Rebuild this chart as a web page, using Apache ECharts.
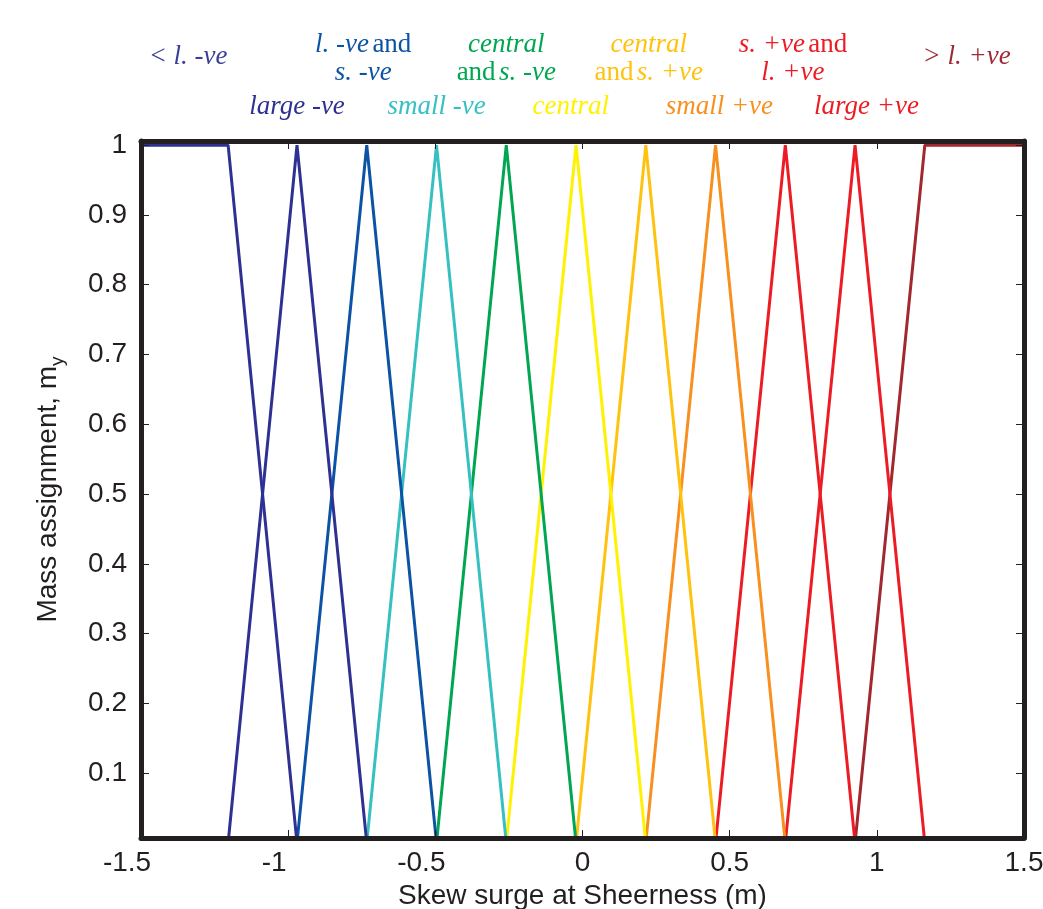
<!DOCTYPE html>
<html>
<head>
<meta charset="utf-8">
<script src="https://cdn.jsdelivr.net/npm/echarts@6/dist/echarts.min.js"></script>
<style>
html,body{margin:0;padding:0;background:#fff;}
#chart{width:1043px;height:909px;}
</style>
</head>
<body>
<div id="chart"></div>
<script>
// ---- data ----
const seriesNames = ['< l. -ve','large -ve','l. -ve and s. -ve','small -ve','central and s. -ve','central','central and s. +ve','small +ve','s. +ve and l. +ve','large +ve','> l. +ve'];
const seriesX = [
  [-1.5, -1.204, -0.970],
  [-1.204, -0.970, -0.733],
  [-0.970, -0.733, -0.496],
  [-0.733, -0.496, -0.259],
  [-0.496, -0.259, -0.022],
  [-0.259, -0.022, 0.215],
  [-0.022, 0.215, 0.452],
  [0.215, 0.452, 0.689],
  [0.452, 0.689, 0.926],
  [0.689, 0.926, 1.163],
  [0.926, 1.163, 1.5]
];
const seriesY = [
  [1, 1, 0],
  [0, 1, 0],
  [0, 1, 0],
  [0, 1, 0],
  [0, 1, 0],
  [0, 1, 0],
  [0, 1, 0],
  [0, 1, 0],
  [0, 1, 0],
  [0, 1, 0],
  [0, 1, 1]
];
const seriesColors = ['#2e3192','#2e3192','#0b53a5','#36c0c0','#00a651','#fff200','#ffc20e','#f7901e','#ed1c24','#ed1c24','#a0282e'];
const xTicks = [-1.5, -1, -0.5, 0, 0.5, 1, 1.5];
const yTicks = [0.1, 0.2, 0.3, 0.4, 0.5, 0.6, 0.7, 0.8, 0.9, 1];
// annotation texts (rich markup: i = italic, n = upright) and their x anchors in data units
const annoText = [
  '{i|< l. -ve}',
  '{i|l. -ve} {n|and}\n{i|s. -ve}',
  '{i|central}\n{n|and} {i|s. -ve}',
  '{i|central}\n{n|and} {i|s. +ve}',
  '{i|s. +ve} {n|and}\n{i|l. +ve}',
  '{i|> l. +ve}',
  '{i|large -ve}',
  '{i|small -ve}',
  '{i|central}',
  '{i|small +ve}',
  '{i|large +ve}'
];
const annoX = [-1.34, -0.745, -0.259, 0.225, 0.715, 1.305, -0.97, -0.496, -0.04, 0.465, 0.965];
const annoRow = [0, 1, 1, 1, 1, 0, 2, 2, 2, 2, 2];
const annoColors = ['#3a3f95','#0b53a5','#00a651','#ffc20e','#ed1c24','#9e2a33','#2e3192','#36c0c0','#fff200','#f7901e','#ed1c24'];

const ink = '#231f20';
const chart = echarts.init(document.getElementById('chart'));

const series = seriesNames.map((name, i) => ({
  name: name,
  type: 'line',
  data: seriesX[i].map((x, k) => [x, seriesY[i][k]]),
  showSymbol: false,
  symbol: 'none',
  clip: true,
  z: 30 - i,
  lineStyle: { color: seriesColors[i], width: 3 },
  itemStyle: { color: seriesColors[i] },
  animation: false
}));

const FAM = 'Liberation Sans, Arial, sans-serif';
const axisFont = { fontFamily: FAM, fontSize: 28, color: ink };

const option = {
  backgroundColor: '#fff',
  animation: false,
  grid: { left: 141, right: 19, top: 141, bottom: 71, containLabel: false, outerBoundsMode: 'none' },
  xAxis: [
    {
      type: 'value', min: -1.5, max: 1.5, interval: 0.5, position: 'bottom', z: 50,
      axisLine: { show: true, onZero: false, lineStyle: { color: ink, width: 5 } },
      axisTick: { show: true, inside: true, length: 8, lineStyle: { color: ink, width: 1 } },
      axisLabel: Object.assign({
        margin: 11,
        formatter: v => (v < 0 ? '{neg|' + v + '}' : '{pos|' + v + '}'),
        rich: {
          neg: { fontFamily: FAM, fontSize: 28, color: ink, padding: [0, 28, 0, 0] },
          pos: { fontFamily: FAM, fontSize: 28, color: ink }
        }
      }, axisFont),
      splitLine: { show: false },
      name: 'Skew surge at Sheerness (m)', nameLocation: 'middle', nameGap: 41,
      nameTextStyle: axisFont
    },
    {
      type: 'value', min: -1.5, max: 1.5, interval: 0.5, position: 'top', z: 50,
      axisLine: { show: true, onZero: false, lineStyle: { color: ink, width: 5 } },
      axisTick: { show: true, inside: true, length: 8, lineStyle: { color: ink, width: 1 } },
      axisLabel: { show: false },
      splitLine: { show: false }
    }
  ],
  yAxis: [
    {
      type: 'value', min: 0.007, max: 1.006, position: 'left', z: 50,
      axisLine: { show: true, onZero: false, lineStyle: { color: ink, width: 5 } },
      axisTick: { show: true, inside: true, length: 8, customValues: yTicks, lineStyle: { color: ink, width: 1 } },
      axisLabel: Object.assign({ margin: 14, customValues: yTicks, formatter: v => String(v) }, axisFont),
      splitLine: { show: false },
      name: '{a|Mass assignment, m}{s|y}', nameLocation: 'middle', nameGap: 74, nameRotate: 90,
      nameTextStyle: {
        rich: {
          a: { fontFamily: FAM, fontSize: 28, color: ink, lineHeight: 38, verticalAlign: 'middle' },
          s: { fontFamily: FAM, fontSize: 19, color: ink, lineHeight: 17, verticalAlign: 'bottom' }
        }
      }
    },
    {
      type: 'value', min: 0.007, max: 1.006, position: 'right', z: 50,
      axisLine: { show: true, onZero: false, lineStyle: { color: ink, width: 5 } },
      axisTick: { show: true, inside: true, length: 8, customValues: yTicks, lineStyle: { color: ink, width: 1 } },
      axisLabel: { show: false },
      splitLine: { show: false }
    }
  ],
  series: series
};
chart.setOption(option);

// place the colored annotations above the plot, x taken from the axis scale
const rowY = [57, 59, 107];
const graphics = annoText.map((t, i) => {
  const px = chart.convertToPixel({ xAxisIndex: 0 }, annoX[i]);
  const c = annoColors[i];
  return {
    type: 'text',
    x: px,
    y: rowY[annoRow[i]],
    silent: true,
    style: {
      text: t,
      align: 'center',
      verticalAlign: 'middle',
      rich: {
        i: { fontFamily: 'Liberation Serif, Times New Roman, serif', fontStyle: 'italic', fontSize: 27, fill: c, color: c, lineHeight: 28 },
        n: { fontFamily: 'Liberation Serif, Times New Roman, serif', fontSize: 27, fill: c, color: c, lineHeight: 28 }
      }
    }
  };
});
chart.setOption({ graphic: graphics });
</script>
</body>
</html>
